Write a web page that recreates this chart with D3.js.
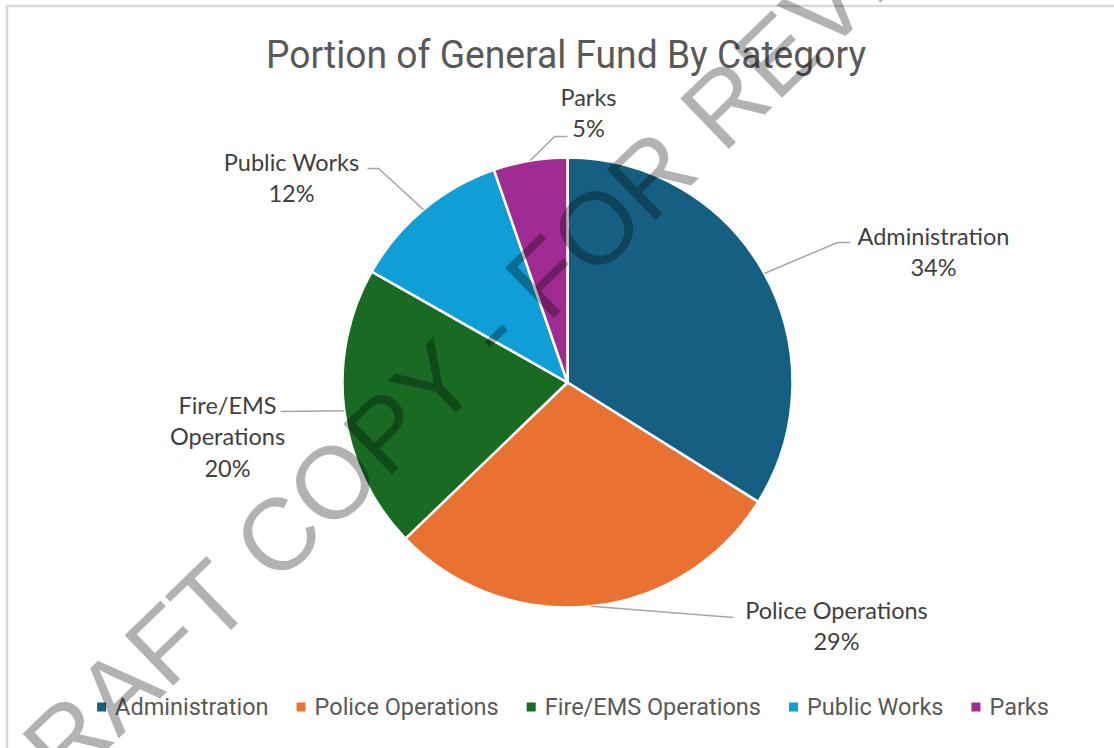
<!DOCTYPE html>
<html>
<head>
    <title>Portion of General Fund By Category</title>
    <script src="https://d3js.org/d3.v7.min.js"></script>
    <style>
        body { margin: 0; background: #fff; }
        .slice { stroke: #fff; stroke-width: 2.5px; }
        .leader { fill: none; stroke: #a6a6a6; stroke-width: 1.5px; }
        .data-label { font-family: Lato, "Open Sans", sans-serif; font-size: 23.5px; fill: #404040; }
        .chart-title { font-family: "Liberation Sans Narrow", Roboto, sans-serif; font-size: 39px; fill: #595959; }
        .legend-text { font-family: "Liberation Sans Narrow", Roboto, sans-serif; font-size: 23.5px; fill: #595959; }
        .watermark { font-family: "Liberation Sans", Arial, sans-serif; font-size: 102px; fill: #000; fill-opacity: 0.3; }
    </style>
</head>
<body>
    <svg width="1114" height="748"></svg>

    <script>
        // chart data
        const categories = ["Administration", "Police Operations", "Fire/EMS Operations", "Public Works", "Parks"];
        const values = [33.9, 28.9, 20.4, 11.5, 5.3];
        const colors = ["#156082", "#E97132", "#196B24", "#0F9ED5", "#A02B93"];
        const chartTitle = "Portion of General Fund By Category";

        const svg = d3.select("svg");
        const width = +svg.attr("width");
        const height = +svg.attr("height");

        // outer frame (only top and left edges are in view)
        svg.append("rect")
            .attr("x", 7).attr("y", 6)
            .attr("width", width + 20).attr("height", height + 20)
            .attr("fill", "none")
            .attr("stroke", "#d9d9d9")
            .attr("stroke-width", 2.5);

        svg.append("text")
            .attr("class", "chart-title")
            .attr("x", 566)
            .attr("y", 55)
            .attr("text-anchor", "middle")
            .attr("dominant-baseline", "central")
            .attr("textLength", 600)
            .attr("lengthAdjust", "spacingAndGlyphs")
            .text(chartTitle);

        const cx = 567.5, cy = 382.5, radius = 225;
        const color = d3.scaleOrdinal().domain(categories).range(colors);

        const pie = d3.pie().sort(null).value(d => d.value);
        const arcs = pie(categories.map((c, i) => ({ name: c, value: values[i] })));
        const arc = d3.arc().innerRadius(0).outerRadius(radius);
        const edge = d3.arc().innerRadius(radius).outerRadius(radius);

        const g = svg.append("g").attr("transform", `translate(${cx},${cy})`);

        g.selectAll(".slice")
            .data(arcs)
            .enter().append("path")
            .attr("class", "slice")
            .attr("d", arc)
            .style("fill", d => color(d.data.name));

        // label placement (Excel "best fit" positions, relative to pie centre)
        const labelLayout = {
            "Administration":      { x: 366, y: -147, lines: ["Administration"], path: [[270, -140], [283, -140]] },
            "Police Operations":   { x: 269, y: 227, lines: ["Police Operations"], path: [[166, 235]] },
            "Fire/EMS Operations": { x: -340, y: 22, lines: ["Fire/EMS", "Operations"], path: [[-287, 29]] },
            "Public Works":        { x: -276, y: -221, lines: ["Public Works"], path: [[-189, -214], [-200, -214]] },
            "Parks":               { x: 21, y: -286, lines: ["Parks"], path: [[-13, -246], [0, -246]] }
        };
        const lineGap = 31.5;
        const total = d3.sum(values);

        const labels = g.selectAll(".label-group")
            .data(arcs)
            .enter().append("g")
            .attr("class", "label-group");

        labels.append("path")
            .attr("class", "leader")
            .attr("d", d => {
                const start = edge.centroid(d);
                return d3.line()([start].concat(labelLayout[d.data.name].path));
            });

        labels.each(function (d) {
            const lay = labelLayout[d.data.name];
            const pct = Math.round(d.data.value / total * 100) + "%";
            const lines = lay.lines.concat([pct]);
            const t = d3.select(this).append("text")
                .attr("class", "data-label")
                .attr("text-anchor", "middle");
            lines.forEach((ln, i) => {
                t.append("tspan")
                    .attr("x", lay.x)
                    .attr("y", lay.y + i * lineGap)
                    .attr("dominant-baseline", "central")
                    .text(ln);
            });
        });

        // legend, centred at the bottom
        const legend = svg.append("g").attr("class", "legend");
        const items = legend.selectAll(".legend-item")
            .data(categories)
            .enter().append("g")
            .attr("class", "legend-item");

        items.append("rect")
            .attr("width", 9).attr("height", 9)
            .attr("y", -4.5)
            .style("fill", d => color(d));

        items.append("text")
            .attr("class", "legend-text")
            .attr("x", 18)
            .attr("dominant-baseline", "central")
            .text(d => d);

        let offset = 0;
        const itemGap = 28;
        items.each(function () {
            const w = this.getBBox().width;
            d3.select(this).attr("data-x", offset);
            offset += w + itemGap;
        });
        const legendWidth = offset - itemGap;
        const legendX = 573 - legendWidth / 2;
        items.attr("transform", function () {
            return `translate(${legendX + +d3.select(this).attr("data-x")},707)`;
        });

        // draft watermark
        svg.append("text")
            .attr("class", "watermark")
            .attr("text-anchor", "middle")
            .attr("dominant-baseline", "central")
            .attr("transform", "translate(488,333) rotate(-44)")
            .text("DRAFT COPY - FOR REVIEW");
    </script>
</body>
</html>
